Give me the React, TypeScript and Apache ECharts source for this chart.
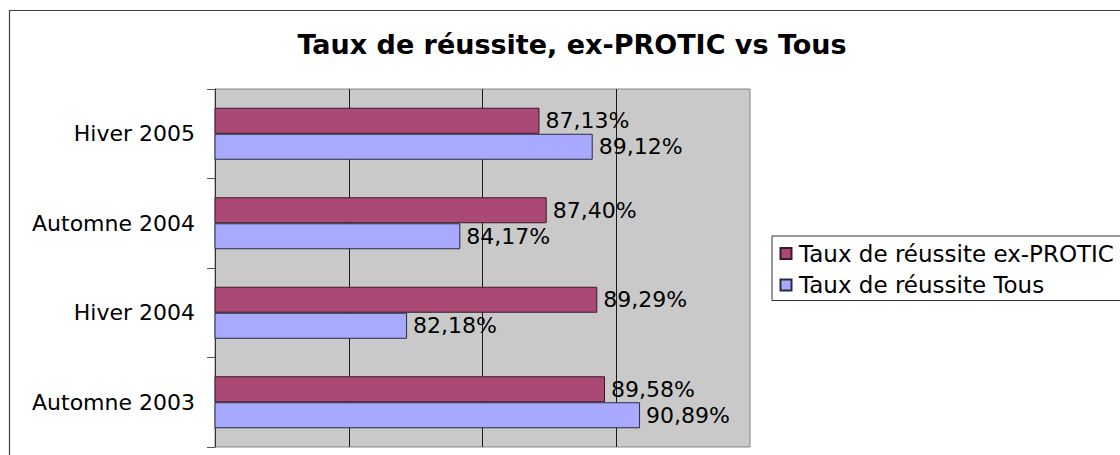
import React, { useEffect, useRef } from "react";
import * as echarts from "echarts";

const categories = ["Automne 2003", "Hiver 2004", "Automne 2004", "Hiver 2005"];
const exProtic = [89.58, 89.29, 87.4, 87.13];
const tous = [90.89, 82.18, 84.17, 89.12];
const seriesNames = ["Taux de réussite ex-PROTIC", "Taux de réussite Tous"];
const titleText = "Taux de réussite, ex-PROTIC vs Tous";
const xMin = 75;
const xMax = 95;
const xStep = 5;

const FONT = "'DejaVu Sans', 'Liberation Sans', Arial, sans-serif";

const fmt = (v: number) => v.toFixed(2).replace(".", ",") + "%";

export default function App() {
  const ref = useRef<HTMLDivElement>(null);
  useEffect(() => {
    if (!ref.current) return;
    const chart = echarts.init(ref.current, undefined, { renderer: "svg" });
    const label = {
      show: true,
      position: "right" as const,
      distance: 6,
      color: "#000",
      fontFamily: FONT,
      fontSize: 22,
      formatter: (p: any) => fmt(p.value),
    };
    chart.setOption({
      animation: false,
      backgroundColor: "#ffffff",
      graphic: [
        {
          type: "rect",
          z: -10,
          shape: { x: 9.5, y: 10.5, width: 1200, height: 500 },
          style: { fill: "transparent", stroke: "#404040", lineWidth: 1.2 },
          silent: true,
        },
        {
          type: "text",
          x: 572,
          y: 44,
          style: {
            text: titleText,
            align: "center",
            verticalAlign: "middle",
            fontFamily: FONT,
            fontWeight: "bold",
            fontSize: 27,
            fill: "#000",
          },
          silent: true,
        },
      ],
      legend: {
        orient: "vertical",
        left: 772,
        top: 236,
        padding: [6, 20, 4, 7.5],
        itemGap: 8.5,
        itemWidth: 16,
        itemHeight: 11,
        icon: "path://M0 0H10V10H0Z",
        borderColor: "#333",
        borderWidth: 1,
        backgroundColor: "#fff",
        textStyle: { color: "#000", fontFamily: FONT, fontSize: 23 },
        data: seriesNames,
      },
      grid: {
        left: 215,
        top: 89,
        width: 535,
        height: 358,
        show: true,
        backgroundColor: "#c9c9c9",
        borderColor: "#858585",
        borderWidth: 1,
      },
      xAxis: {
        type: "value",
        min: xMin,
        max: xMax,
        interval: xStep,
        axisLine: { show: false },
        axisTick: { show: false },
        axisLabel: { show: false },
        splitLine: {
          show: true,
          showMinLine: false,
          showMaxLine: false,
          lineStyle: { color: "#1a1a1a", width: 1 },
        },
      },
      yAxis: {
        type: "category",
        data: categories,
        boundaryGap: true,
        axisLine: { show: true, lineStyle: { color: "#333", width: 1 } },
        axisTick: { show: true, length: 8, lineStyle: { color: "#555" } },
        axisLabel: {
          margin: 20,
          color: "#000",
          fontFamily: FONT,
          fontSize: 22,
        },
        splitLine: { show: false },
      },
      series: [
        {
          name: seriesNames[0],
          type: "bar",
          data: exProtic,
          barWidth: 26,
          barGap: "0%",
          itemStyle: { color: "#AA4976", borderColor: "#3a1a2a", borderWidth: 1 },
          label,
        },
        {
          name: seriesNames[1],
          type: "bar",
          data: tous,
          barWidth: 26,
          barGap: "0%",
          itemStyle: { color: "#A8AAFF", borderColor: "#2a2a40", borderWidth: 1 },
          label,
        },
      ],
    });
    return () => chart.dispose();
  }, []);
  return (
    <div
      ref={ref}
      style={{ position: "fixed", left: 0, top: 0, width: 1120, height: 455 }}
    />
  );
}
